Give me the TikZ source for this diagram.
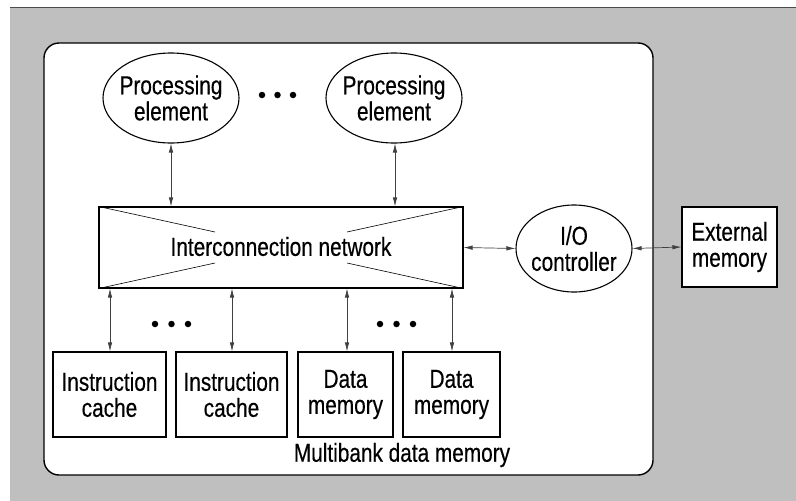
\documentclass[tikz,border=0pt]{standalone}
\usepackage{fontspec}
\setmainfont{Liberation Sans}[FakeStretch=0.80, FakeBold=0.4]
\usetikzlibrary{shapes.geometric,arrows.meta}

\begin{document}
\begin{tikzpicture}[x=1pt,y=-1pt,
  txt/.style={font=\fontsize{26}{26}\selectfont, align=center, inner sep=0pt},
  pe/.style={draw, line width=1.1pt, ellipse, inner sep=0pt, fill=white,
             minimum width=136pt, minimum height=90pt},
  membox/.style={draw, line width=1.1pt, rectangle, inner sep=0pt, fill=white,
                 txt},
  link/.style={line width=0.7pt, draw=black!75,
               {Latex[length=9pt,width=4.5pt]}-{Latex[length=9pt,width=4.5pt]}},
  dot/.style={circle, fill=black, inner sep=0pt, minimum size=6.5pt}
]
% page and halftone-grey ground
\useasboundingbox (0,0) rectangle (796,501);
\fill[white] (0,0) rectangle (796,501);
\fill[black!25] (10,7) rectangle (796,501);
\draw[black!70, line width=1pt] (10,7) -- (796,7);

% the chip outline
\draw[fill=white, line width=1.4pt, rounded corners=15pt] (44,43) rectangle (653,475);

% processing elements
\node[pe, label={[txt]center:Processing\\element}] (pe1) at (171,98) {};
\node[pe, label={[txt]center:Processing\\element}] (pe2) at (394,98) {};
\node[dot] (d1) at (262,95) {};
\node[dot] (d2) at (277.5,95) {};
\node[dot] (d3) at (293,95) {};

% interconnection network
\node[draw, line width=1.1pt, minimum width=364pt, minimum height=81pt, inner sep=0pt]
  (net) at (281,247.5) {};
\node[txt] (nettxt) at (281,246.5) {Interconnection network};
\draw[line width=0.6pt] (net.north west) -- (215,232);
\draw[line width=0.6pt] (net.south west) -- (215,263);
\draw[line width=0.6pt] (net.north east) -- (347,232);
\draw[line width=0.6pt] (net.south east) -- (347,263);

% I/O controller and external memory
\node[pe, minimum width=116pt, minimum height=87pt,
      label={[txt]center:I/O\\controller}] (io) at (574,248.5) {};
\node[membox, minimum width=95pt, minimum height=80pt] (ext) at (729.5,247)
  {External\\memory};

% memory banks
\node[membox, minimum width=113pt, minimum height=85pt] (ic1) at (109.5,394.5)
  {Instruction\\cache};
\node[membox, minimum width=111pt, minimum height=85pt] (ic2) at (231.5,394.5)
  {Instruction\\cache};
\node[membox, minimum width=95pt, minimum height=85pt] (dm1) at (345.5,394.5)
  {Data\\memory};
\node[membox, minimum width=97pt, minimum height=85pt] (dm2) at (451.5,394.5)
  {Data\\memory};
\node[dot] (d4) at (155,324) {};
\node[dot] (d5) at (171.5,324) {};
\node[dot] (d6) at (188,324) {};
\node[dot] (d7) at (380,324) {};
\node[dot] (d8) at (396.5,324) {};
\node[dot] (d9) at (413,324) {};
\node[txt] (mb) at (402,455) {Multibank data memory};

% connections
\draw[link] (pe1.south) -- (pe1.south |- net.north);
\draw[link] (pe2.south -| 395,0) -- (395,0 |- net.north);
\draw[link] (net.east) -- (io.west);
\draw[link] (io.east) -- (ext.west);
\draw[link] (110,0 |- net.south) -- (110,0 |- ic1.north);
\draw[link] (232,0 |- net.south) -- (232,0 |- ic2.north);
\draw[link] (347,0 |- net.south) -- (347,0 |- dm1.north);
\draw[link] (452,0 |- net.south) -- (452,0 |- dm2.north);
\end{tikzpicture}
\end{document}
